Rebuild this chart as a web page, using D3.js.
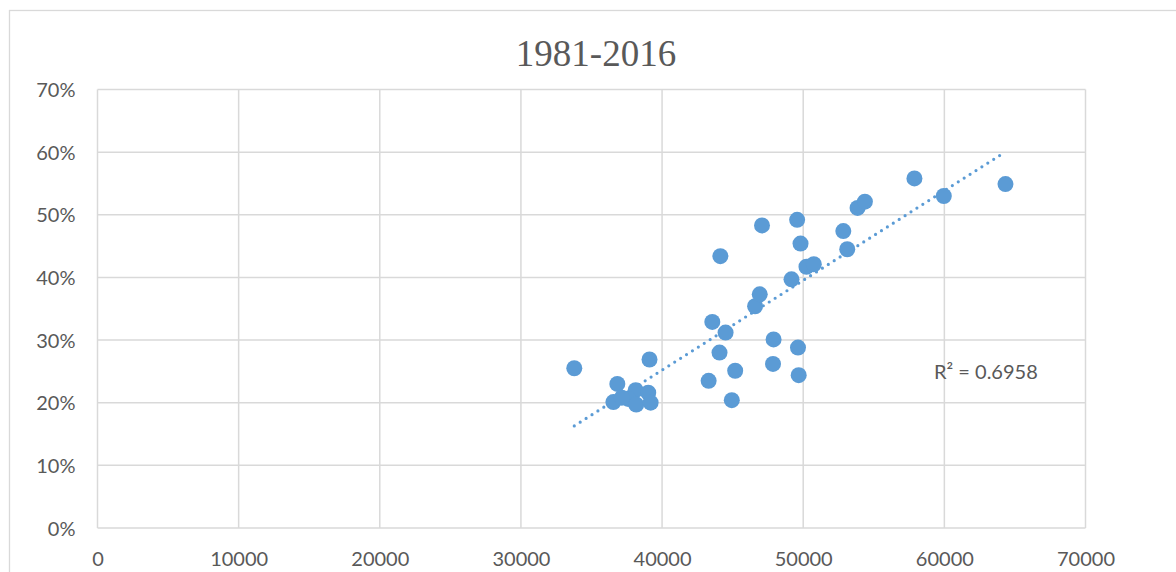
<!DOCTYPE html>
<html>
<head>
<meta charset="utf-8">
<script src="https://cdn.jsdelivr.net/npm/d3@7"></script>
<style>
  body { margin: 0; background: #fff; }
  svg { display: block; }
</style>
</head>
<body>
<div id="chart"></div>
<script>
const width = 1176;
const height = 572;

// 1981-2016, one point per year
const xValues = [
  33780, 36830, 36550, 38130, 37600, 38170, 39020, 39190, 39110,
  43560, 44500, 44070, 45180, 43300, 44940, 47900, 49630, 47860,
  49680, 46590, 46920, 49170, 50230, 50750, 44130, 47080, 49570,
  49810, 53120, 52840, 53850, 54370, 57880, 59960, 64330, 37150
];
const yValues = [
  0.255, 0.230, 0.201, 0.220, 0.206, 0.197, 0.216, 0.200, 0.269,
  0.329, 0.312, 0.280, 0.251, 0.235, 0.204, 0.301, 0.288, 0.262,
  0.244, 0.354, 0.373, 0.397, 0.417, 0.421, 0.434, 0.483, 0.492,
  0.454, 0.445, 0.474, 0.511, 0.521, 0.558, 0.530, 0.549, 0.208
];

const points = xValues.map((x, i) => ({x, y: yValues[i]}));

const xTicks = [0, 10000, 20000, 30000, 40000, 50000, 60000, 70000];
const yTicks = [0, 0.1, 0.2, 0.3, 0.4, 0.5, 0.6, 0.7];
const title = "1981-2016";
const rSquared = "R² = 0.6958";

const margin = {left: 97.5, right: 90.5, top: 89.5, bottom: 44};

const x = d3.scaleLinear()
    .domain([0, 70000])
    .range([margin.left, width - margin.right]);

const y = d3.scaleLinear()
    .domain([0, 0.7])
    .range([height - margin.bottom, margin.top]);

const svg = d3.select("#chart")
    .append("svg")
    .attr("width", width)
    .attr("height", height)
    .style("font-family", "Lato, 'Liberation Sans', sans-serif");

// outer chart frame
svg.append("rect")
    .attr("x", 9.5)
    .attr("y", 10.5)
    .attr("width", width + 20)
    .attr("height", height + 20)
    .attr("fill", "#fff")
    .attr("stroke", "#d9d9d9")
    .attr("stroke-width", 1.3);

svg.append("text")
    .attr("x", 596)
    .attr("y", 66)
    .attr("text-anchor", "middle")
    .attr("fill", "#595959")
    .style("font-family", "'Liberation Serif', 'DejaVu Serif', serif")
    .style("font-size", "37px")
    .text(title);

// gridlines
svg.append("g")
    .selectAll("line")
    .data(yTicks)
    .join("line")
    .attr("x1", x(0))
    .attr("x2", x(70000))
    .attr("y1", d => y(d))
    .attr("y2", d => y(d))
    .attr("stroke", "#d9d9d9")
    .attr("stroke-width", 1.5);

svg.append("g")
    .selectAll("line")
    .data(xTicks)
    .join("line")
    .attr("x1", d => x(d))
    .attr("x2", d => x(d))
    .attr("y1", y(0))
    .attr("y2", y(0.7))
    .attr("stroke", "#d9d9d9")
    .attr("stroke-width", 1.5);

// axes (labels only)
const xAxis = svg.append("g")
    .attr("transform", `translate(0,${y(0)})`)
    .call(d3.axisBottom(x).tickValues(xTicks).tickFormat(d3.format("d")).tickSize(0).tickPadding(24));
const yAxis = svg.append("g")
    .attr("transform", `translate(${x(0)},0)`)
    .call(d3.axisLeft(y).tickValues(yTicks).tickFormat(d3.format(".0%")).tickSize(0).tickPadding(22));

[xAxis, yAxis].forEach(a => {
  a.select(".domain").remove();
  a.selectAll("text")
      .attr("fill", "#595959")
      .style("font-family", "Lato, 'Liberation Sans', sans-serif")
      .style("font-size", "20px");
});
xAxis.selectAll("text").attr("dy", "0.71em");
yAxis.selectAll("text").attr("dy", "0.35em");

// linear trendline
const mx = d3.mean(points, d => d.x);
const my = d3.mean(points, d => d.y);
const slope = d3.sum(points, d => (d.x - mx) * (d.y - my)) / d3.sum(points, d => (d.x - mx) ** 2);
const intercept = my - slope * mx;
const [xmin, xmax] = d3.extent(points, d => d.x);

svg.append("line")
    .attr("x1", x(xmin))
    .attr("y1", y(intercept + slope * xmin))
    .attr("x2", x(xmax))
    .attr("y2", y(intercept + slope * xmax))
    .attr("stroke", "#5b9bd5")
    .attr("stroke-width", 3.2)
    .attr("stroke-linecap", "round")
    .attr("stroke-dasharray", "0 7");

svg.append("g")
    .selectAll("circle")
    .data(points)
    .join("circle")
    .attr("cx", d => x(d.x))
    .attr("cy", d => y(d.y))
    .attr("r", 8)
    .attr("fill", "#5b9bd5");

svg.append("text")
    .attr("x", 934)
    .attr("y", 379)
    .attr("fill", "#595959")
    .style("font-size", "20px")
    .text(rSquared);
</script>
</body>
</html>
